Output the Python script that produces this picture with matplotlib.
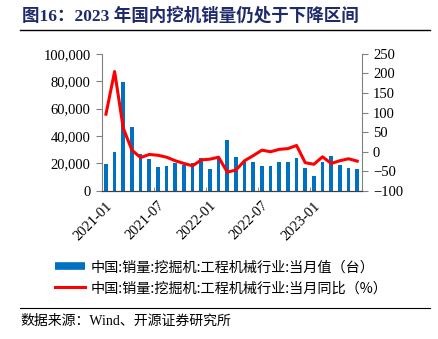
import matplotlib.pyplot as plt
from matplotlib.lines import Line2D
import numpy as np

# monthly data, 2021-01 .. 2023-06
months = ['2021-01', '2021-02', '2021-03', '2021-04', '2021-05', '2021-06',
          '2021-07', '2021-08', '2021-09', '2021-10', '2021-11', '2021-12',
          '2022-01', '2022-02', '2022-03', '2022-04', '2022-05', '2022-06',
          '2022-07', '2022-08', '2022-09', '2022-10', '2022-11', '2022-12',
          '2023-01', '2023-02', '2023-03', '2023-04', '2023-05', '2023-06']
sales = [19500, 28300, 79400, 46600, 27100, 23200,
         17300, 18100, 20000, 19200, 20000, 23800,
         15700, 23300, 36800, 24500, 20900, 20900,
         17900, 17900, 21400, 20900, 23900, 17000,
         10500, 21400, 25800, 19000, 17000, 16000]
yoy = [96, 205, 60, 4, -15, -7,
       -9, -14, -23, -30, -36, -21,
       -19, -14, -52, -47, -23, -10,
       4, 0, 6, 8, 16, -28,
       -32, -13, -30, -23, -18, -24]
tick_labels = ['2021-01', '2021-07', '2022-01', '2022-07', '2023-01']

blue = '#0070C0'
red = '#FF0000'
grey = '#808080'

plt.rcParams['font.family'] = ['Liberation Serif', 'Noto Sans CJK SC']

fig = plt.figure(figsize=(4.38, 3.39), dpi=100)
ax = fig.add_axes([0.232, 0.437, 0.594, 0.404])
ax2 = ax.twinx()

x = np.arange(len(months))
ax.bar(x, sales, width=0.42, color=blue, zorder=2)
ax2.plot(x, yoy, color=red, lw=2.2, zorder=3)

ax.set_xlim(-0.46, len(months) - 0.47)
ax.set_ylim(0, 100000)
ax.set_yticks(range(0, 100001, 20000))
ax.set_yticklabels([f'{v:,}' for v in range(0, 100001, 20000)])
ax2.set_ylim(-100, 250)
ax2.set_yticks(range(-100, 251, 50))

pos = [months.index(m) for m in tick_labels]
ax.set_xticks(pos)
ax.set_xticklabels(tick_labels, rotation=45, ha='right', rotation_mode='anchor')
ax.set_xticks([p - 0.5 for p in pos], minor=True)
ax.tick_params(axis='x', which='major', length=0, pad=6, labelsize=10.5)
ax.tick_params(axis='x', which='minor', direction='in', length=3, color=grey)
ax.tick_params(axis='y', direction='out', length=4, color=grey, labelsize=10.5, pad=4)
ax2.tick_params(axis='y', direction='out', length=4, color=grey, labelsize=10.5, pad=4)

for a in (ax, ax2):
    a.spines['top'].set_visible(False)
    a.spines['left'].set_color(grey)
    a.spines['right'].set_color(grey)
    a.spines['bottom'].set_color('#404040')
ax.spines['right'].set_visible(False)
ax2.spines['left'].set_visible(False)
ax.set_zorder(ax2.get_zorder() - 1)
ax2.patch.set_visible(False)

# legend below the plot
handles = [Line2D([], [], color=blue, lw=5.5, solid_capstyle='butt'),
           Line2D([], [], color=red, lw=2.2)]
labels = ['中国:销量:挖掘机:工程机械行业:当月值（台）',
          '中国:销量:挖掘机:工程机械行业:当月同比（%）']
fig.legend(handles, labels, loc='upper left', bbox_to_anchor=(0.125, 0.232),
           frameon=False, borderpad=0, borderaxespad=0, handlelength=2.15,
           handletextpad=0.4, labelspacing=0.5,
           prop={'family': 'Noto Sans CJK SC', 'size': 10.2})

# title, rules and source
fig.text(0.05, 0.955, '图16：2023 年国内挖机销量仍处于下降区间', fontsize=12.6,
         fontweight='bold', color='#1F2A6B', va='center')
fig.add_artist(Line2D([0.045, 0.982], [0.911, 0.911], color='black', lw=1))
fig.add_artist(Line2D([0.045, 0.982], [0.09, 0.09], color='black', lw=0.8))
fig.text(0.046, 0.053, '数据来源：Wind、开源证券研究所', fontsize=10, va='center')

fig.savefig('out.png', dpi=100)
